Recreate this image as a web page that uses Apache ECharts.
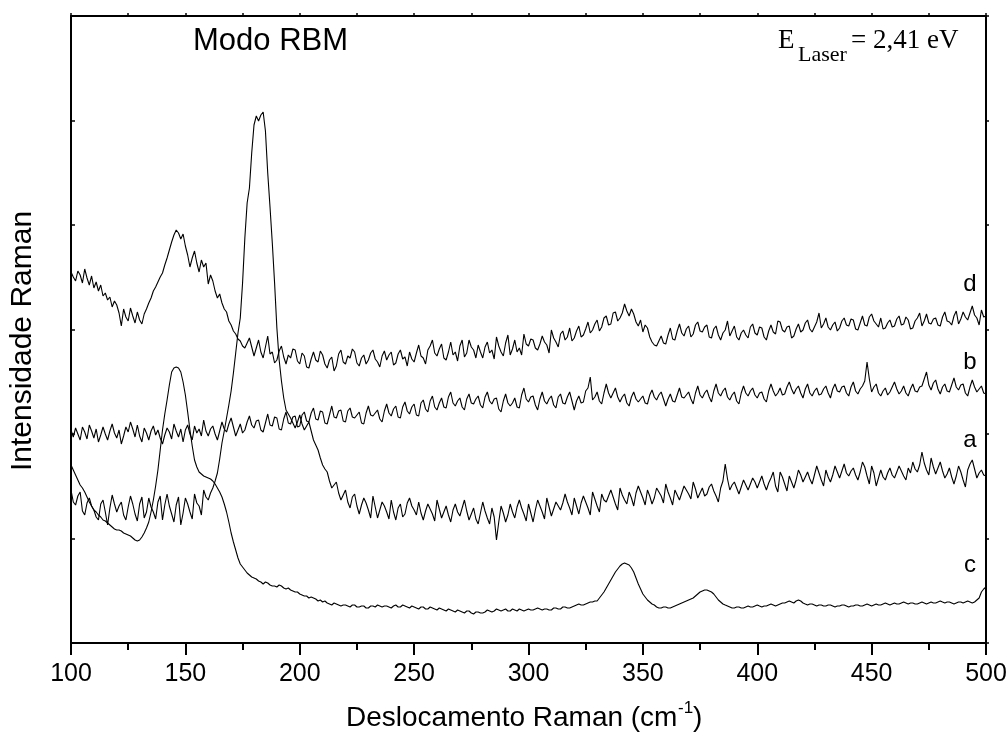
<!DOCTYPE html>
<html>
<head>
<meta charset="utf-8">
<title>Modo RBM</title>
<script src="https://cdn.jsdelivr.net/npm/echarts@6/dist/echarts.min.js"></script>
<style>
  html, body { margin: 0; padding: 0; background: #fff; }
  #chart { width: 1008px; height: 741px; }
</style>
</head>
<body>
<div id="chart"></div>
<script>
// deslocamento Raman (cm-1), um ponto por cm-1
const ramanShift = [
  100,101,102,103,104,105,106,107,108,109,110,111,112,113,114,115,116,117,118,119,
  120,121,122,123,124,125,126,127,128,129,130,131,132,133,134,135,136,137,138,139,
  140,141,142,143,144,145,146,147,148,149,150,151,152,153,154,155,156,157,158,159,
  160,161,162,163,164,165,166,167,168,169,170,171,172,173,174,175,176,177,178,179,
  180,181,182,183,184,185,186,187,188,189,190,191,192,193,194,195,196,197,198,199,
  200,201,202,203,204,205,206,207,208,209,210,211,212,213,214,215,216,217,218,219,
  220,221,222,223,224,225,226,227,228,229,230,231,232,233,234,235,236,237,238,239,
  240,241,242,243,244,245,246,247,248,249,250,251,252,253,254,255,256,257,258,259,
  260,261,262,263,264,265,266,267,268,269,270,271,272,273,274,275,276,277,278,279,
  280,281,282,283,284,285,286,287,288,289,290,291,292,293,294,295,296,297,298,299,
  300,301,302,303,304,305,306,307,308,309,310,311,312,313,314,315,316,317,318,319,
  320,321,322,323,324,325,326,327,328,329,330,331,332,333,334,335,336,337,338,339,
  340,341,342,343,344,345,346,347,348,349,350,351,352,353,354,355,356,357,358,359,
  360,361,362,363,364,365,366,367,368,369,370,371,372,373,374,375,376,377,378,379,
  380,381,382,383,384,385,386,387,388,389,390,391,392,393,394,395,396,397,398,399,
  400,401,402,403,404,405,406,407,408,409,410,411,412,413,414,415,416,417,418,419,
  420,421,422,423,424,425,426,427,428,429,430,431,432,433,434,435,436,437,438,439,
  440,441,442,443,444,445,446,447,448,449,450,451,452,453,454,455,456,457,458,459,
  460,461,462,463,464,465,466,467,468,469,470,471,472,473,474,475,476,477,478,479,
  480,481,482,483,484,485,486,487,488,489,490,491,492,493,494,495,496,497,498,499,
  500
];

// intensidades (u.a.), curvas deslocadas verticalmente
const curveD = [
  371,366,362,372,368,360,374,365,358,367, 355,361,352,358,347,350,343,346,336,342,
  338,330,317,334,326,322,335,327,320,331, 323,319,329,334,340,345,352,356,361,366,
  370,378,385,393,401,408,413,410,404,409, 397,388,376,385,392,380,371,383,376,380,
  359,368,362,352,345,349,340,334,331,322, 318,312,309,304,302,297,295,300,305,296,
  287,295,303,291,285,296,307,289,291,280, 283,292,297,286,279,288,285,294,293,282,
  279,290,287,276,275,284,291,283,281,292, 288,279,275,283,286,272,277,289,293,281,
  279,287,285,294,291,280,277,285,288,279, 283,290,293,284,281,276,287,292,283,288,
  291,278,280,289,293,284,286,277,291,284, 281,290,298,287,285,279,293,297,303,290,
  287,294,299,285,283,291,301,288,291,282, 297,303,286,290,303,296,293,285,298,291,
  285,296,301,290,293,284,306,297,291,287, 300,308,288,294,303,291,295,288,309,299,
  297,304,303,295,293,299,307,301,298,290, 313,305,301,296,309,312,303,306,315,302,
  305,312,317,306,308,314,321,310,313,319, 323,312,316,325,327,318,319,330,331,322,
  325,330,339,332,327,334,329,321,317,323, 311,318,315,306,301,298,297,302,307,300,
  299,308,315,304,303,312,319,310,307,314, 317,306,309,318,321,312,311,316,318,306,
  305,314,317,308,303,310,313,322,307,312, 317,306,303,310,313,308,305,316,319,310,
  308,316,315,306,303,312,318,311,309,322, 321,313,311,316,317,305,307,314,319,311,
  313,320,323,314,311,316,321,330,315,319, 325,316,313,318,321,312,315,322,325,318,
  317,324,323,314,313,320,327,318,317,326, 329,322,319,316,325,314,315,320,323,316,
  317,324,327,318,319,326,323,314,315,322, 325,330,317,322,329,320,319,324,325,318,
  317,326,331,322,321,318,327,332,319,324, 331,326,323,330,337,328,325,318,333,326,
  327
];

const curveB = [
  213,206,215,209,203,216,211,204,218,212, 205,214,201,208,216,209,203,212,219,210,
  205,213,199,207,216,211,221,214,206,218, 207,201,215,210,203,212,217,208,213,205,
  199,208,215,211,204,219,212,206,214,201, 213,218,209,203,217,210,214,207,223,212,
  207,214,217,209,203,212,221,214,211,219, 225,216,207,213,219,210,213,221,227,218,
  215,222,223,213,211,220,229,218,217,226, 225,214,213,224,231,220,219,226,227,216,
  217,228,231,222,221,230,235,224,223,232, 231,220,219,228,237,226,225,232,233,222,
  221,232,235,226,225,228,231,220,219,230, 237,228,227,230,233,224,221,232,239,230,
  227,234,237,226,225,236,241,232,229,236, 239,228,227,240,243,234,231,242,247,236,
  233,240,245,236,235,246,251,240,237,242, 245,236,233,244,249,240,239,244,247,238,
  235,246,251,242,239,244,245,234,231,242, 249,240,237,240,245,236,235,248,255,244,
  241,246,247,238,233,244,251,242,239,244, 247,238,235,246,249,240,239,246,251,242,
  233,242,247,240,241,252,255,266,243,246, 251,242,239,250,259,250,245,250,255,246,
  241,246,249,240,237,246,251,244,241,244, 247,240,239,248,253,246,243,248,251,244,
  237,244,249,242,241,248,255,246,245,248, 251,244,239,250,257,248,245,250,253,246,
  241,252,259,250,247,252,255,246,243,248, 251,242,239,250,257,250,247,252,255,248,
  245,250,251,244,241,252,259,252,247,250, 255,248,249,256,261,254,249,254,257,250,
  245,254,259,250,247,252,255,248,249,254, 257,250,245,254,259,252,251,256,257,250,
  247,256,261,252,249,254,257,262,281,264, 251,256,259,250,247,252,255,248,251,256,
  261,254,249,252,257,250,247,254,259,252, 251,256,257,264,271,258,253,260,263,254,
  249,256,259,252,251,258,265,256,253,258, 259,250,247,256,263,256,251,254,257,250,
  249
];

const curveA = [
  153,141,138,147,151,132,128,140,145,137, 133,126,123,139,143,131,118,135,148,139,
  131,137,141,128,123,136,147,139,129,122, 139,146,125,131,145,136,131,124,141,147,
  123,138,149,137,129,121,138,146,118,130, 145,139,131,124,149,140,137,128,153,146,
  143,150,155,162,170,184,200,212,225,238, 252,270,290,310,325,360,405,440,455,490,
  518,527,522,528,531,512,470,436,400,360, 315,283,262,245,233,229,225,220,215,221,
  228,219,213,217,221,212,203,198,193,185, 178,174,171,162,155,158,161,150,143,148,
  153,141,135,146,149,137,129,138,145,140, 133,125,147,136,125,133,141,137,131,124,
  143,131,123,135,139,126,129,140,145,137, 133,128,141,130,123,132,139,134,129,122,
  143,134,125,131,137,128,121,133,139,131, 127,135,143,132,123,129,135,124,119,130,
  141,132,125,119,135,126,103,121,137,130, 121,128,139,131,125,136,143,135,129,122,
  139,130,121,133,143,137,131,124,145,136, 127,134,141,137,133,140,149,141,135,128,
  145,137,129,140,147,141,135,128,151,144, 137,131,149,143,141,147,153,146,139,133,
  155,148,143,139,151,145,137,150,157,151, 145,138,153,147,139,145,155,151,147,140,
  159,151,145,138,153,148,143,150,157,153, 149,144,161,154,145,150,155,147,149,156,
  159,152,147,141,155,162,179,164,153,158, 161,155,149,156,163,158,153,159,165,161,
  155,161,167,159,153,160,165,171,157,151, 171,166,159,152,167,161,155,163,173,168,
  161,166,171,164,159,168,177,170,163,157, 173,166,161,168,177,171,165,172,179,170,
  167,172,175,168,163,171,181,176,167,159, 177,170,157,165,173,166,163,170,175,168,
  165,171,177,172,167,163,175,170,181,174, 171,178,191,180,173,168,185,176,169,175,
  181,172,165,169,175,166,159,167,177,171, 163,156,173,179,183,174,165,170,173,168,
  167
];

const curveC = [
  178,173,168,163,158,155,151,146,141,137, 133,131,128,126,123,122,120,118,116,114,
  113,113,112,110,109,108,107,105,103,102, 103,106,110,115,121,131,143,157,173,193,
  213,229,243,258,271,275,276,275,271,261, 248,231,213,197,183,176,171,169,167,166,
  165,164,162,159,155,151,146,139,131,121, 110,101,93,85,79,76,73,70,68,66,
  65,64,62,61,59,61,60,58,57,57, 56,58,57,55,54,55,53,52,51,51,
  49,48,47,47,45,46,45,44,42,43, 41,42,40,39,38,40,39,38,37,38,
  38,37,36,38,38,36,36,37,37,35, 35,37,37,36,38,37,36,37,37,36,
  35,37,38,36,36,38,37,36,35,37, 36,35,34,36,36,34,34,36,35,34,
  33,35,34,33,32,34,33,32,31,33, 32,31,30,32,32,30,29,31,31,30,
  30,31,33,32,31,32,34,33,32,33, 34,32,32,34,33,32,34,33,32,33,
  34,33,33,34,35,34,33,34,34,33, 33,35,35,34,34,36,36,35,35,36,
  37,38,39,38,38,39,40,41,41,42, 42,45,48,51,55,59,63,67,71,74,
  77,79,80,79,78,75,71,65,59,54, 49,46,43,41,39,38,36,35,35,36,
  36,35,35,36,37,38,39,40,41,42, 43,44,45,47,49,51,52,53,53,52,
  51,49,46,43,41,39,38,37,36,35, 35,36,36,35,35,36,37,36,36,37,
  38,37,36,37,37,38,39,38,37,38, 39,40,40,41,42,41,40,42,43,42,
  40,39,38,39,39,38,37,38,38,37, 37,38,38,37,36,37,37,38,38,37,
  36,37,37,38,38,37,37,38,39,38, 37,38,39,38,38,39,40,39,38,39,
  40,39,39,40,41,40,39,40,40,39, 39,40,41,40,39,40,41,40,40,41,
  42,41,40,41,41,40,39,40,41,41, 40,41,42,41,40,41,43,45,51,54,
  56
];

const curveNames = ['d', 'b', 'a', 'c'];

const toPairs = (ys) => ramanShift.map((x, i) => [x, ys[i]]);

const chart = echarts.init(document.getElementById('chart'), null, { renderer: 'canvas' });

const sans = 'Arial, "Liberation Sans", Helvetica, sans-serif';
const serif = '"Times New Roman", "Liberation Serif", Times, serif';

const lineSeries = (name, ys) => ({
  name: name,
  type: 'line',
  data: toPairs(ys),
  showSymbol: false,
  symbol: 'none',
  lineStyle: { color: '#000', width: 1.1 },
  silent: true
});

const option = {
  animation: false,
  backgroundColor: '#fff',
  grid: {
    left: 71,
    right: 22,
    top: 16,
    bottom: 98,
    containLabel: false,
    outerBoundsMode: 'none'
  },
  xAxis: [
    {
      type: 'value',
      position: 'bottom',
      min: 100,
      max: 500,
      interval: 50,
      axisLine: { show: true, onZero: false, lineStyle: { color: '#000', width: 2 } },
      axisTick: { show: true, inside: false, length: 12, lineStyle: { color: '#000', width: 2 } },
      minorTick: { show: true, splitNumber: 2, length: 7, lineStyle: { color: '#000', width: 2 } },
      axisLabel: { color: '#000', fontSize: 25, fontFamily: sans, margin: 19 },
      splitLine: { show: false }
    },
    {
      type: 'value',
      position: 'top',
      min: 100,
      max: 500,
      interval: 25,
      axisLine: { show: true, onZero: false, lineStyle: { color: '#000', width: 2 } },
      axisTick: { show: true, inside: false, length: 3, lineStyle: { color: '#000', width: 1.5 } },
      axisLabel: { show: false },
      splitLine: { show: false }
    }
  ],
  yAxis: [
    {
      type: 'value',
      position: 'left',
      min: 0,
      max: 627,
      interval: 104.5,
      axisLine: { show: true, onZero: false, lineStyle: { color: '#000', width: 2 } },
      axisTick: { show: true, inside: true, length: 4, lineStyle: { color: '#000', width: 1.5 } },
      axisLabel: { show: false },
      splitLine: { show: false }
    },
    {
      type: 'value',
      position: 'right',
      min: 0,
      max: 627,
      interval: 104.5,
      axisLine: { show: true, onZero: false, lineStyle: { color: '#000', width: 2 } },
      axisTick: { show: true, inside: false, length: 3, lineStyle: { color: '#000', width: 1.5 } },
      axisLabel: { show: false },
      splitLine: { show: false }
    }
  ],
  series: [
    lineSeries('d', curveD),
    lineSeries('b', curveB),
    lineSeries('a', curveA),
    lineSeries('c', curveC)
  ],
  graphic: [
    // titulo interno
    { type: 'text', x: 193, y: 41, style: { text: 'Modo RBM', font: '31px ' + sans, fill: '#000', verticalAlign: 'middle' } },
    // energia do laser
    { type: 'text', x: 778, y: 41, style: { text: 'E', font: '27px ' + serif, fill: '#000', verticalAlign: 'middle' } },
    { type: 'text', x: 798, y: 55, style: { text: 'Laser', font: '22px ' + serif, fill: '#000', verticalAlign: 'middle' } },
    { type: 'text', x: 851, y: 41, style: { text: '= 2,41 eV', font: '27px ' + serif, fill: '#000', verticalAlign: 'middle' } },
    // rotulos das curvas
    { type: 'text', x: 970, y: 284, style: { text: curveNames[0], font: '24px ' + sans, fill: '#000', align: 'center', verticalAlign: 'middle' } },
    { type: 'text', x: 970, y: 362, style: { text: curveNames[1], font: '24px ' + sans, fill: '#000', align: 'center', verticalAlign: 'middle' } },
    { type: 'text', x: 970, y: 440, style: { text: curveNames[2], font: '24px ' + sans, fill: '#000', align: 'center', verticalAlign: 'middle' } },
    { type: 'text', x: 970, y: 565, style: { text: curveNames[3], font: '24px ' + sans, fill: '#000', align: 'center', verticalAlign: 'middle' } },
    // titulo do eixo x
    { type: 'text', x: 346, y: 718, style: { text: 'Deslocamento Raman (cm', font: '28px ' + sans, fill: '#000', verticalAlign: 'middle' } },
    { type: 'text', x: 678, y: 708, style: { text: '-1', font: '17px ' + sans, fill: '#000', verticalAlign: 'middle' } },
    { type: 'text', x: 693, y: 718, style: { text: ')', font: '28px ' + sans, fill: '#000', verticalAlign: 'middle' } },
    // titulo do eixo y
    { type: 'text', x: 23, y: 341, rotation: Math.PI / 2, style: { text: 'Intensidade Raman', font: '30px ' + sans, fill: '#000', align: 'center', verticalAlign: 'middle' } }
  ]
};

chart.setOption(option);
</script>
</body>
</html>
